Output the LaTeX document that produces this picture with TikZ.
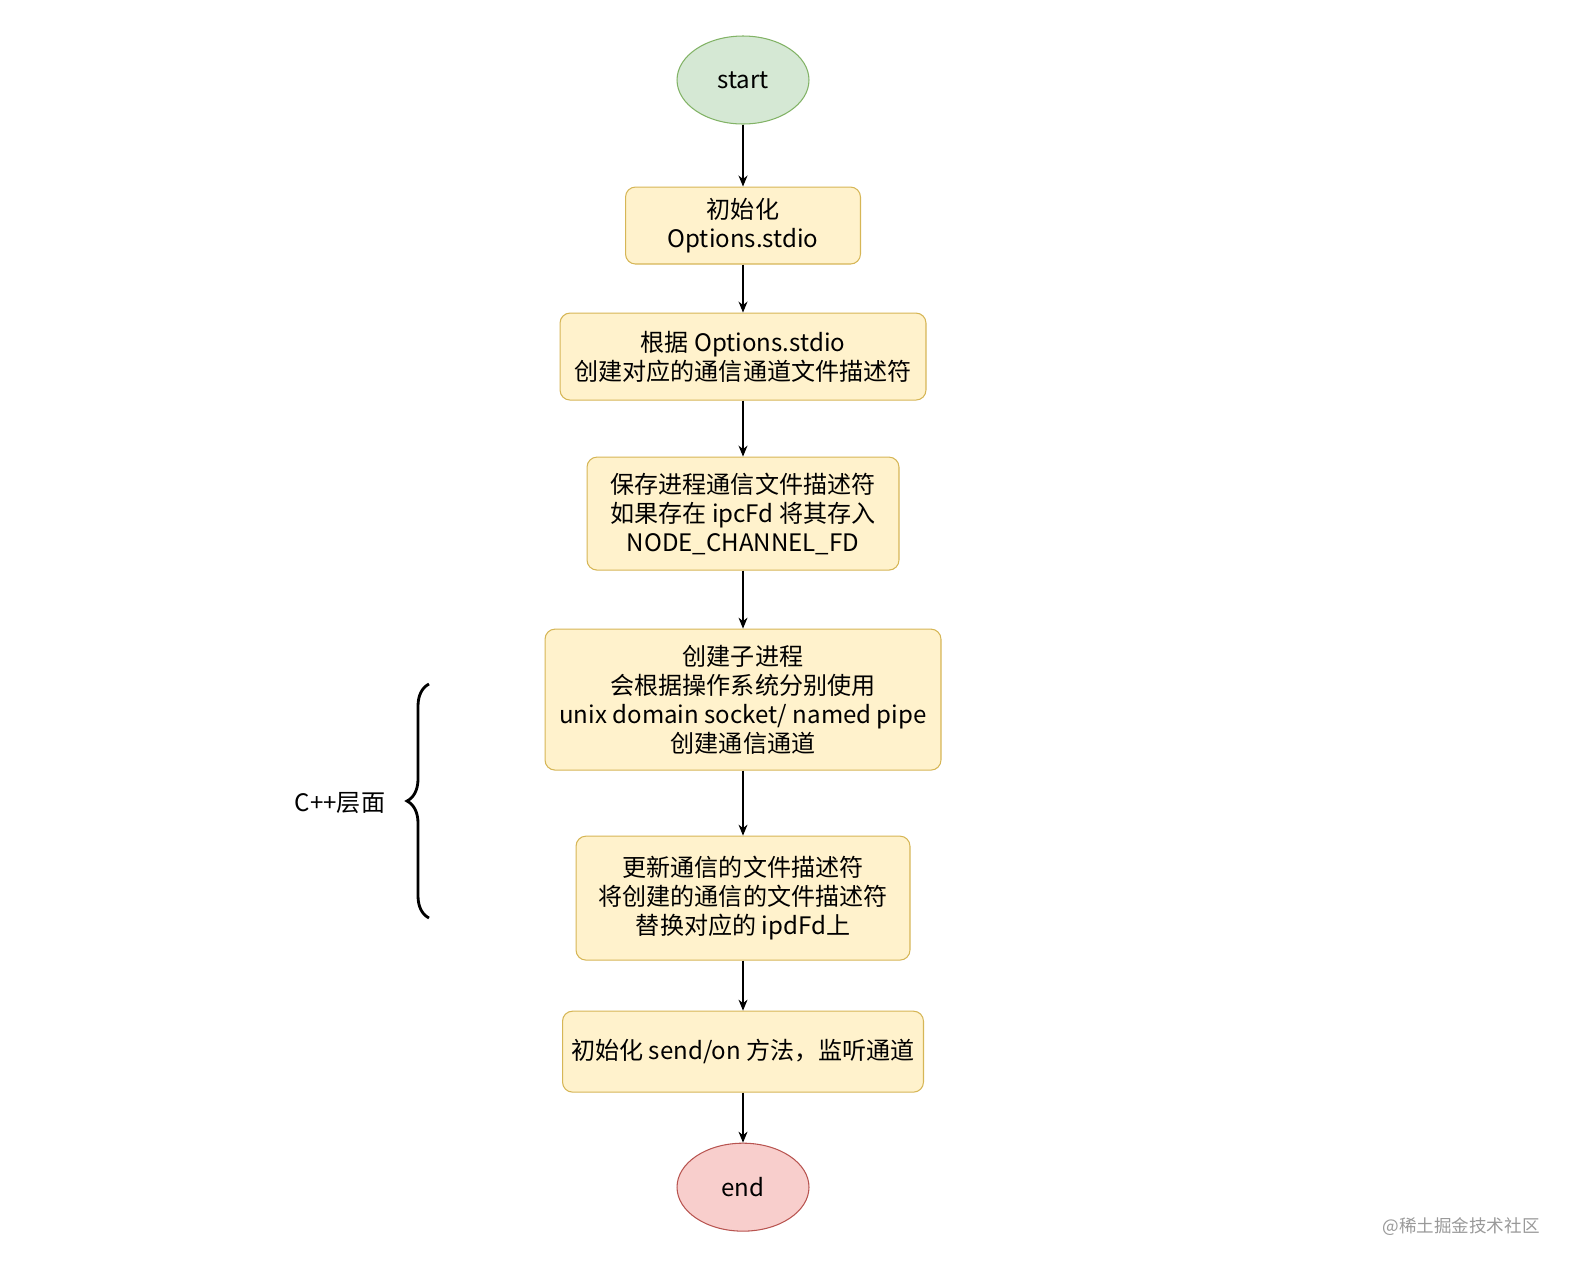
\documentclass[tikz,border=0pt]{standalone}
\usepackage{fontspec}
\setmainfont{Noto Sans CJK SC}
\usepackage{tikz}
\usetikzlibrary{positioning, arrows.meta, shapes.geometric, decorations.pathreplacing}

\definecolor{startfill}{HTML}{D5E8D4}
\definecolor{startline}{HTML}{82B366}
\definecolor{stepfill}{HTML}{FFF2CC}
\definecolor{stepline}{HTML}{D6B656}
\definecolor{endfill}{HTML}{F8CECC}
\definecolor{endline}{HTML}{B85450}

\begin{document}
\begin{tikzpicture}[
        x=0.02cm, y=-0.02cm,
        font=\fontsize{13.7pt}{16.5pt}\selectfont,
        terminal/.style={
            ellipse,
            draw,
            line width=0.6pt,
            minimum width=2.64cm,
            minimum height=1.76cm
        },
        stepbox/.style={
            rectangle,
            draw=stepline,
            fill=stepfill,
            line width=0.6pt,
            rounded corners=0.2cm,
            align=center
        },
        arrow/.style={
            -{Stealth[length=2.2mm, width=1.8mm]},
            line width=0.6pt
        }
    ]

    \useasboundingbox (0,0) rectangle (1574,1268);

    % --------------------------------------------------------
    % Main flow
    % --------------------------------------------------------

    \node[terminal, fill=startfill, draw=startline] (start) at (743,80)
        {start};

    \node[stepbox, minimum width=4.7cm, minimum height=1.54cm,
        below=1.24cm of start] (init)
        {初始化\\Options.stdio};

    \node[stepbox, minimum width=7.32cm, minimum height=1.74cm,
        below=0.96cm of init] (create)
        {根据 Options.stdio\\创建对应的通信通道文件描述符};

    \node[stepbox, minimum width=6.24cm, minimum height=2.26cm,
        below=1.12cm of create] (save)
        {保存进程通信文件描述符\\如果存在 ipcFd 将其存入\\NODE\_CHANNEL\_FD};

    \node[stepbox, minimum width=7.92cm, minimum height=2.82cm,
        below=1.16cm of save] (child)
        {创建子进程\\会根据操作系统分别使用\\unix domain socket/ named pipe\\创建通信通道};

    \node[stepbox, minimum width=6.68cm, minimum height=2.48cm,
        below=1.30cm of child] (update)
        {更新通信的文件描述符\\将创建的通信的文件描述符\\替换对应的 ipdFd上};

    \node[stepbox, minimum width=7.22cm, minimum height=1.62cm,
        below=1.0cm of update] (listen)
        {初始化 send/on 方法，监听通道};

    \node[terminal, fill=endfill, draw=endline,
        below=1.0cm of listen] (stop)
        {end};

    % --------------------------------------------------------
    % Arrows
    % --------------------------------------------------------

    \draw[arrow] (start) -- (init);
    \draw[arrow] (init) -- (create);
    \draw[arrow] (create) -- (save);
    \draw[arrow] (save) -- (child);
    \draw[arrow] (child) -- (update);
    \draw[arrow] (update) -- (listen);
    \draw[arrow] (listen) -- (stop);

    % --------------------------------------------------------
    % C++ layer brace
    % --------------------------------------------------------

    \coordinate (braceBottom) at (429,918);
    \coordinate (braceTop) at (429,684);

    \draw[line width=1.6pt, decorate,
        decoration={brace, amplitude=0.44cm}]
        (braceBottom) -- (braceTop);

    \node (layer) at (340,803) {C++层面};

    % Watermark
    \node[text=black!40, font=\fontsize{10pt}{12pt}\selectfont]
        (mark) at (1461,1227) {@稀土掘金技术社区};

\end{tikzpicture}
\end{document}
